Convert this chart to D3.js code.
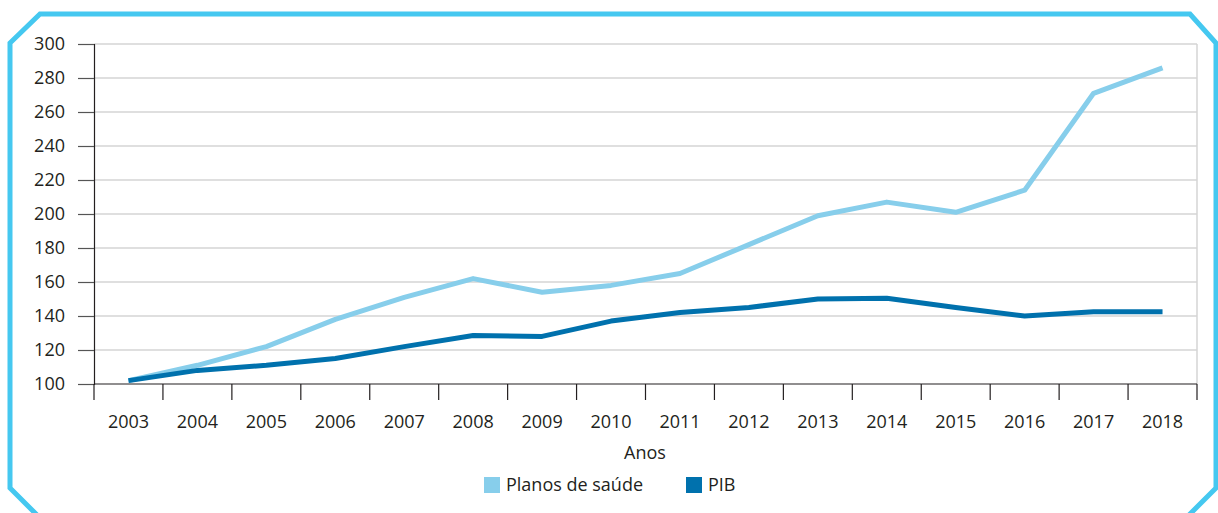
<!DOCTYPE html>
<html>
<head>
<meta charset="utf-8">
<script src="https://cdn.jsdelivr.net/npm/d3@7"></script>
<style>
  body { margin: 0; background: #fff; }
  svg { display: block; font-family: "Open Sans", "Noto Sans", sans-serif; }
</style>
</head>
<body>
<svg id="chart" width="1218" height="513"></svg>
<script>
var years = ['2003','2004','2005','2006','2007','2008','2009','2010','2011','2012','2013','2014','2015','2016','2017','2018'];
var planos = [102, 111, 122, 138, 151, 162, 154, 158, 165, 182, 199, 207, 201, 214, 271, 286];
var pib = [102, 108, 111, 115, 122, 128.5, 128, 137, 142, 145, 150, 150.5, 145, 140, 142.5, 142.5];
var yTicks = [100, 120, 140, 160, 180, 200, 220, 240, 260, 280, 300];
var seriesNames = ['Planos de saúde', 'PIB'];

var colors = ['#87ceeb', '#0071ad'];
var fontSize = 18;

var svg = d3.select('#chart');

// frame, bottom edge runs off the picture
var fr = [[40,14],[1190,14],[1216,43],[1216,488],[1186,518],[40,518],[10,488],[10,43]];
svg.append('path')
  .attr('d', 'M' + fr.map(function(p) { return p.join(','); }).join('L') + 'Z')
  .attr('fill', 'none')
  .attr('stroke', '#45c8f0')
  .attr('stroke-width', 5);

var plotL = 94, plotR = 1197, plotT = 44, plotB = 384;

var x = d3.scaleBand().domain(years).range([plotL, plotR]);
var y = d3.scaleLinear().domain([100, 300]).range([plotB, plotT]);

// gridlines
svg.append('g')
  .selectAll('line')
  .data(yTicks.slice(1))
  .join('line')
  .attr('x1', plotL).attr('x2', plotR)
  .attr('y1', function(d) { return y(d); })
  .attr('y2', function(d) { return y(d); })
  .attr('stroke', '#d4d4d4')
  .attr('stroke-width', 1.5);

svg.append('line')
  .attr('x1', plotR).attr('x2', plotR)
  .attr('y1', plotT).attr('y2', plotB)
  .attr('stroke', '#d4d4d4')
  .attr('stroke-width', 1.5);

// y axis
var yAxis = svg.append('g')
  .attr('transform', 'translate(' + plotL + ',0)')
  .call(d3.axisLeft(y).tickValues(yTicks).tickSize(16).tickPadding(13));
yAxis.select('.domain').attr('stroke', '#231f20').attr('stroke-width', 1.2);
yAxis.selectAll('.tick line').attr('stroke', '#555').attr('stroke-width', 1.2);
yAxis.selectAll('text').attr('font-size', fontSize).attr('fill', '#231f20')
  .attr('font-family', '"Open Sans", sans-serif');

// x axis (ticks at band boundaries)
var xAxisG = svg.append('g').attr('transform', 'translate(0,' + plotB + ')');
xAxisG.append('line')
  .attr('x1', plotL).attr('x2', plotR)
  .attr('stroke', '#231f20').attr('stroke-width', 1.2);
var bounds = years.map(function(d) { return x(d); }).concat([plotR]);
xAxisG.selectAll('line.tk')
  .data(bounds)
  .join('line')
  .attr('class', 'tk')
  .attr('x1', function(d) { return d; }).attr('x2', function(d) { return d; })
  .attr('y1', 0).attr('y2', 16)
  .attr('stroke', '#231f20').attr('stroke-width', 1.2);
xAxisG.selectAll('text')
  .data(years)
  .join('text')
  .attr('x', function(d) { return x(d) + x.bandwidth() / 2; })
  .attr('y', 44)
  .attr('text-anchor', 'middle')
  .attr('font-size', fontSize)
  .attr('fill', '#231f20')
  .text(function(d) { return d; });

svg.append('text')
  .attr('x', 645).attr('y', 459)
  .attr('text-anchor', 'middle')
  .attr('font-size', fontSize)
  .attr('fill', '#231f20')
  .text('Anos');

// lines
var line = d3.line()
  .x(function(d, i) { return x(years[i]) + x.bandwidth() / 2; })
  .y(function(d) { return y(d); });

[planos, pib].forEach(function(s, i) {
  svg.append('path')
    .datum(s)
    .attr('d', line)
    .attr('fill', 'none')
    .attr('stroke', colors[i])
    .attr('stroke-width', 5)
    .attr('stroke-linejoin', 'round');
});

// legend
var legendX = [484, 686];
var lg = svg.append('g');
seriesNames.forEach(function(n, i) {
  lg.append('rect')
    .attr('x', legendX[i]).attr('y', 477)
    .attr('width', 16).attr('height', 16)
    .attr('fill', colors[i]);
  lg.append('text')
    .attr('x', legendX[i] + 22).attr('y', 491)
    .attr('font-size', fontSize)
    .attr('fill', '#231f20')
    .text(n);
});
</script>
</body>
</html>
